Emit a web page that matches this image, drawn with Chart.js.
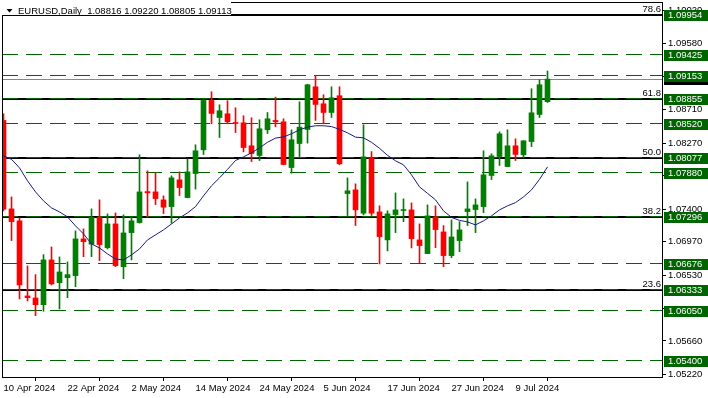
<!DOCTYPE html>
<html>
<head>
<meta charset="utf-8">
<script src="https://cdn.jsdelivr.net/npm/chart.js@4.4.1/dist/chart.umd.min.js"></script>
<style>
body { margin: 0; background: #fff; }
#wrap { width: 708px; height: 398px; }
</style>
</head>
<body>
<div id="wrap"><canvas id="chart" width="708" height="398"></canvas></div>
<script>
HEADER = "EURUSD,Daily  1.08816 1.09220 1.08805 1.09113"

// one trading day per candle
var dates = [
    "10 Apr 2024","11 Apr 2024","12 Apr 2024","15 Apr 2024","16 Apr 2024","17 Apr 2024","18 Apr 2024","19 Apr 2024",
    "22 Apr 2024","23 Apr 2024","24 Apr 2024","25 Apr 2024","26 Apr 2024","29 Apr 2024","30 Apr 2024","1 May 2024",
    "2 May 2024","3 May 2024","6 May 2024","7 May 2024","8 May 2024","9 May 2024","10 May 2024","13 May 2024",
    "14 May 2024","15 May 2024","16 May 2024","17 May 2024","20 May 2024","21 May 2024","22 May 2024","23 May 2024",
    "24 May 2024","27 May 2024","28 May 2024","29 May 2024","30 May 2024","31 May 2024","3 Jun 2024","4 Jun 2024",
    "5 Jun 2024","6 Jun 2024","7 Jun 2024","10 Jun 2024","11 Jun 2024","12 Jun 2024","13 Jun 2024","14 Jun 2024",
    "17 Jun 2024","18 Jun 2024","19 Jun 2024","20 Jun 2024","21 Jun 2024","24 Jun 2024","25 Jun 2024","26 Jun 2024",
    "27 Jun 2024","28 Jun 2024","1 Jul 2024","2 Jul 2024","3 Jul 2024","4 Jul 2024","5 Jul 2024","8 Jul 2024",
    "9 Jul 2024","10 Jul 2024","11 Jul 2024","12 Jul 2024","15 Jul 2024"
]

var openP = [
    1.08568,1.07402,1.07244,1.06254,1.06227,1.06139,1.06729,1.06429,1.06495,1.06522,
    1.07006,1.06936,1.07292,1.06891,1.07204,1.06640,1.07089,1.07221,1.07630,1.07626,
    1.07521,1.07432,1.07785,1.07551,1.07868,1.08181,1.08832,1.08607,1.08656,1.08541,
    1.08537,1.08234,1.08106,1.08445,1.08568,1.08550,1.07947,1.08264,1.08449,1.09012,
    1.08788,1.08673,1.08894,1.07604,1.07653,1.07345,1.08071,1.07362,1.06993,1.07327,
    1.07380,1.07389,1.06993,1.06812,1.07296,1.07098,1.06786,1.06984,1.07366,1.07393,
    1.07432,1.07842,1.08092,1.07960,1.08234,1.08115,1.08290,1.08647,1.08816
]
var highP = [
    1.08656,1.07560,1.07283,1.06650,1.06535,1.06799,1.06900,1.06768,1.06702,1.07112,
    1.07138,1.07402,1.07521,1.07336,1.07349,1.07323,1.07296,1.08115,1.07904,1.07877,
    1.07574,1.07838,1.07890,1.08062,1.08247,1.08841,1.08946,1.08775,1.08828,1.08735,
    1.08630,1.08603,1.08577,1.08673,1.08876,1.08590,1.08445,1.08814,1.09045,1.09158,
    1.08907,1.09012,1.09012,1.07811,1.07732,1.08511,1.08158,1.07442,1.07376,1.07613,
    1.07534,1.07481,1.07204,1.07455,1.07442,1.07182,1.07257,1.07234,1.07758,1.07534,
    1.08168,1.08128,1.08418,1.08445,1.08326,1.08300,1.08986,1.09105,1.09220
]
var lowP = [
    1.07376,1.06984,1.06214,1.06188,1.05994,1.06052,1.06399,1.06082,1.06231,1.06376,
    1.06772,1.06772,1.06720,1.06874,1.06640,1.06482,1.06729,1.07213,1.07292,1.07459,
    1.07340,1.07213,1.07578,1.07547,1.07662,1.08119,1.08524,1.08343,1.08524,1.08409,
    1.08154,1.08026,1.08040,1.08396,1.08484,1.07983,1.07873,1.08092,1.08269,1.08568,
    1.08524,1.08607,1.07983,1.07314,1.07182,1.07323,1.07314,1.06676,1.06848,1.07089,
    1.07234,1.06887,1.06693,1.06812,1.06891,1.06640,1.06759,1.06838,1.07182,1.07089,
    1.07353,1.07789,1.07974,1.07960,1.08040,1.08075,1.08224,1.08607,1.08805
]
var closeP = [
    1.07398,1.07234,1.06399,1.06231,1.06139,1.06729,1.06412,1.06570,1.06535,1.07006,
    1.06970,1.07292,1.06931,1.07204,1.06654,1.07085,1.07244,1.07626,1.07613,1.07538,
    1.07424,1.07811,1.07683,1.07890,1.08168,1.08832,1.08660,1.08696,1.08550,1.08528,
    1.08211,1.08132,1.08458,1.08590,1.08550,1.07987,1.08313,1.08480,1.09039,1.08779,
    1.08673,1.08867,1.07996,1.07640,1.07389,1.08088,1.07345,1.07036,1.07336,1.07389,
    1.07389,1.07010,1.06918,1.07310,1.07129,1.06786,1.07032,1.07125,1.07402,1.07455,
    1.07851,1.08102,1.08392,1.08234,1.08120,1.08300,1.08669,1.09039,1.09113
]

// moving average, first value belongs to the day before 10 Apr
var maValues = [
    1.08142,
    1.08102,1.08055,1.07943,1.07772,1.07626,1.07508,1.07415,1.07362,1.07296,1.07178,
    1.07072,1.06940,1.06887,1.06808,1.06742,1.06729,1.06795,1.06874,1.06993,1.07059,
    1.07125,1.07204,1.07283,1.07349,1.07432,1.07574,1.07706,1.07811,1.07923,1.08040,
    1.08088,1.08141,1.08207,1.08280,1.08335,1.08352,1.08392,1.08445,1.08480,1.08498,
    1.08498,1.08487,1.08451,1.08405,1.08348,1.08339,1.08280,1.08201,1.08108,1.08036,
    1.07983,1.07851,1.07692,1.07607,1.07521,1.07376,1.07290,1.07250,1.07230,1.07191,
    1.07244,1.07310,1.07389,1.07442,1.07485,1.07560,1.07653,1.07791,1.07956
]

var xTickIdx = [0, 8, 16, 24, 32, 40, 48, 56, 64]
var yTicks = [1.05220,1.05660,1.06090,1.06530,1.06970,1.07400,1.07840,1.08270,1.08710,1.09150,1.09580,1.10020]
var yTicksHidden = [1.06090]   // label sits under a price box, MT4 skips it

var fibLevels = [1.06333, 1.07296, 1.08077, 1.08855, 1.09954]
var fibNames = ["23.6", "38.2", "50.0", "61.8", "78.6"]
var dashLevels = [1.05400, 1.06050, 1.06333, 1.06676, 1.07296, 1.07880, 1.08077, 1.08520, 1.08855, 1.09153, 1.09425]
var boxLevels = [1.05400, 1.06050, 1.06333, 1.06676, 1.07296, 1.07880, 1.08077, 1.08520, 1.08855, 1.09153, 1.09425, 1.09954]
var bidPrice = 1.09113

var GREEN = '#008000', RED = '#ff0000', LEVEL_GREEN = '#006400'
var FONT = "9.5px 'Liberation Sans', Arial, sans-serif"

var candleColors = [], wicks = [], bodies = [], maLine = []
for (var i = 0; i < dates.length; i++) {
    candleColors.push(closeP[i] >= openP[i] ? GREEN : RED)
    wicks.push({x: i, y: [lowP[i], highP[i]]})
    bodies.push({x: i, y: [openP[i], closeP[i]]})
}
for (var j = 0; j < maValues.length; j++) {
    maLine.push({x: j - 1, y: maValues[j]})
}

function hline(ctx, a, py){
    ctx.beginPath()
    ctx.moveTo(a.left, py)
    ctx.lineTo(a.right, py)
    ctx.stroke()
}

var levelsPlugin = {
    id: 'levels',
    beforeDatasetsDraw: function(chart){
        var ctx = chart.ctx, a = chart.chartArea, ys = chart.scales.y
        ctx.save()
        ctx.beginPath()
        ctx.rect(a.left, a.top, a.right - a.left, a.bottom - a.top)
        ctx.clip()

        ctx.strokeStyle = '#000'
        ctx.lineWidth = 2
        fibLevels.forEach(function(p){
            hline(ctx, a, Math.round(ys.getPixelForValue(p)))
        })

        ctx.lineWidth = 1
        ctx.strokeStyle = LEVEL_GREEN
        ctx.setLineDash([16, 8])
        dashLevels.forEach(function(p){
            hline(ctx, a, Math.round(ys.getPixelForValue(p)) - 0.5)
        })
        ctx.setLineDash([])

        ctx.strokeStyle = '#778899'
        hline(ctx, a, Math.round(ys.getPixelForValue(bidPrice)) + 0.5)
        ctx.restore()
    },
    afterDraw: function(chart){
        var ctx = chart.ctx, a = chart.chartArea, ys = chart.scales.y
        ctx.save()

        // frame
        ctx.strokeStyle = '#000'
        ctx.lineWidth = 1
        ctx.strokeRect(a.left + 0.5, a.top + 0.5, a.right - a.left, a.bottom - a.top)

        ctx.font = FONT
        // fibo level names
        ctx.fillStyle = '#000'
        ctx.textAlign = 'right'
        ctx.textBaseline = 'bottom'
        fibLevels.forEach(function(p, k){
            ctx.fillText(fibNames[k], a.right - 1, Math.round(ys.getPixelForValue(p)) - 1)
        })

        // price boxes on the axis
        ctx.textAlign = 'left'
        ctx.textBaseline = 'middle'
        var by = Math.round(ys.getPixelForValue(bidPrice))
        ctx.fillStyle = '#000'
        ctx.fillRect(a.right + 2, by - 5, 46, 11)
        ctx.fillStyle = '#fff'
        ctx.fillText(bidPrice.toFixed(5), a.right + 6, by + 0.5)
        boxLevels.forEach(function(p){
            var py = Math.round(ys.getPixelForValue(p))
            ctx.fillStyle = LEVEL_GREEN
            ctx.fillRect(a.right + 2, py - 5, 46, 11)
            ctx.fillStyle = '#fff'
            ctx.fillText(p.toFixed(5), a.right + 6, py + 0.5)
        })

        // header
        ctx.fillStyle = '#fff'
        ctx.fillRect(0, 0, 231, 15)
        ctx.fillStyle = '#000'
        ctx.beginPath()
        ctx.moveTo(6.5, 9)
        ctx.lineTo(12.5, 9)
        ctx.lineTo(9.5, 12.5)
        ctx.closePath()
        ctx.fill()
        ctx.fillText(HEADER, 18, 11)
        ctx.restore()
    }
}

Chart.defaults.font.family = "'Liberation Sans', Arial, sans-serif"
Chart.defaults.font.size = 9.5
Chart.defaults.color = '#000'

var chart = new Chart(document.getElementById('chart').getContext('2d'), {
    type: 'bar',
    data: {
        datasets: [
            {
                type: 'line',
                data: maLine,
                borderColor: '#1a1a7a',
                borderWidth: 1,
                pointRadius: 0,
                tension: 0,
                order: 0
            },
            {
                data: bodies,
                backgroundColor: candleColors,
                borderWidth: 0,
                barThickness: 5,
                minBarLength: 1,
                grouped: false,
                order: 1
            },
            {
                data: wicks,
                backgroundColor: candleColors,
                borderWidth: 0,
                barThickness: 1,
                grouped: false,
                order: 2
            }
        ]
    },
    options: {
        responsive: false,
        animation: false,
        events: [],
        layout: { padding: { left: 2, top: 2, right: 0, bottom: 0 } },
        plugins: { legend: { display: false }, tooltip: { enabled: false } },
        scales: {
            x: {
                type: 'linear',
                offset: false,
                min: -0.1875,
                max: 82.3125,
                border: { display: false },
                grid: { drawOnChartArea: false, drawTicks: true, tickLength: 4, tickColor: '#000' },
                ticks: {
                    align: 'start',
                    padding: 2,
                    maxRotation: 0,
                    autoSkip: false,
                    callback: function(v){ return dates[v] }
                },
                afterBuildTicks: function(s){
                    s.ticks = xTickIdx.map(function(v){ return {value: v} })
                },
                afterFit: function(s){
                    s.height = 21
                    s.paddingLeft = 0
                    s.paddingRight = 0
                }
            },
            y: {
                type: 'linear',
                position: 'right',
                min: 1.05185,
                max: 1.10130,
                border: { display: false },
                grid: { drawOnChartArea: false, drawTicks: true, tickLength: 4, tickColor: '#000' },
                ticks: {
                    padding: 2,
                    autoSkip: false,
                    callback: function(v){
                        return yTicksHidden.indexOf(v) >= 0 ? '' : v.toFixed(5)
                    }
                },
                afterBuildTicks: function(s){
                    s.ticks = yTicks.map(function(v){ return {value: v} })
                },
                afterFit: function(s){
                    s.width = 46
                    s.paddingTop = 0
                    s.paddingBottom = 0
                }
            }
        }
    },
    plugins: [levelsPlugin]
})
</script>
</body>
</html>
